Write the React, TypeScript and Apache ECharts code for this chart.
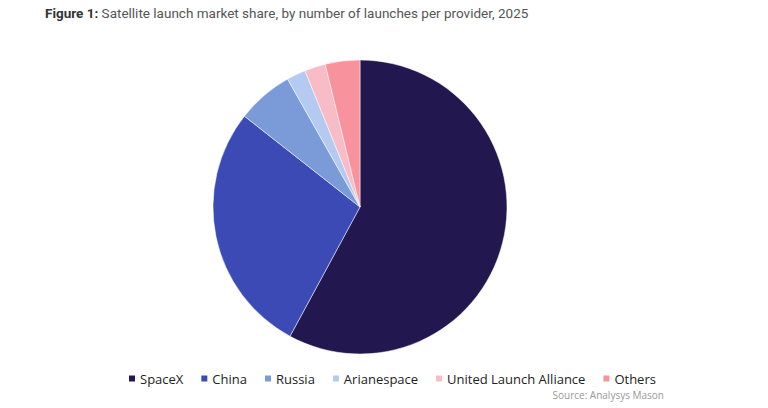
import React, { useEffect, useRef } from "react";
import * as echarts from "echarts";

const providers = ["SpaceX", "China", "Russia", "Arianespace", "United Launch Alliance", "Others"];
const shares = [57.9, 27.7, 6.2, 2.1, 2.3, 3.8];
const colors = ["#22184f", "#3b4ab5", "#7b9ad8", "#b4caf0", "#f8bcc6", "#f8939d"];

export default function App() {
  const ref = useRef<HTMLDivElement>(null);
  useEffect(() => {
    if (!ref.current) return;
    const chart = echarts.init(ref.current, undefined, { renderer: "svg" });
    chart.setOption({
      animation: false,
      backgroundColor: "#ffffff",
      title: {
        text: "{b|Figure 1:}{r| Satellite launch market share, by number of launches per provider, 2025}",
        left: 40,
        top: 1,
        textStyle: {
          fontWeight: "normal",
          rich: {
            b: { fontFamily: "Roboto", fontWeight: "bold", fontSize: 13.5, color: "#333333" },
            r: { fontFamily: "Roboto", fontWeight: "normal", fontSize: 13.5, color: "#555555" },
          },
        },
      },
      legend: {
        bottom: 18,
        left: 122,
        icon: "rect",
        itemWidth: 8,
        itemHeight: 8,
        itemGap: 16,
        textStyle: { fontFamily: "Open Sans", fontSize: 13, color: "#222222", padding: [0, 0, 0, -1] },
        data: providers,
      },
      graphic: [
        {
          type: "text",
          right: 104,
          top: 390,
          style: { text: "Source: Analysys Mason", fontFamily: "Open Sans", fontSize: 10, fill: "#999999" },
        },
      ],
      series: [
        {
          type: "pie",
          center: [360, 207],
          radius: 147,
          startAngle: 90,
          clockwise: true,
          label: { show: false },
          labelLine: { show: false },
          itemStyle: { borderColor: "#ffffff", borderWidth: 0.5 },
          data: providers.map((p, i) => ({ name: p, value: shares[i], itemStyle: { color: colors[i] } })),
        },
      ],
    });
    return () => chart.dispose();
  }, []);
  return <div ref={ref} style={{ position: "absolute", left: 0, top: 0, width: 768, height: 408 }} />;
}
